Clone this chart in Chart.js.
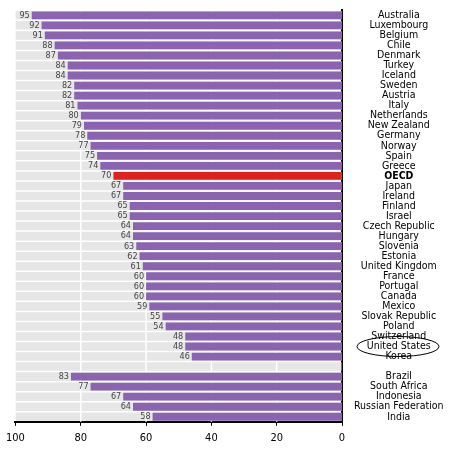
<!DOCTYPE html>
<html><head><script src="https://cdn.jsdelivr.net/npm/chart.js"></script>
<style>body{margin:0;background:#fff}#w{width:449px;height:455px}</style></head>
<body><div id="w"><canvas id="c"></canvas></div>
<script>
const categories=["Australia","Luxembourg","Belgium","Chile","Denmark","Turkey","Iceland","Sweden","Austria","Italy","Netherlands","New Zealand","Germany","Norway","Spain","Greece","OECD","Japan","Ireland","Finland","Israel","Czech Republic","Hungary","Slovenia","Estonia","United Kingdom","France","Portugal","Canada","Mexico","Slovak Republic","Poland","Switzerland","United States","Korea","","Brazil","South Africa","Indonesia","Russian Federation","India"];
const values=[95,92,91,88,87,84,84,82,82,81,80,79,78,77,75,74,70,67,67,65,65,64,64,63,62,61,60,60,60,59,55,54,48,48,46,null,83,77,67,64,58];
const xTicks=[100,80,60,40,20,0];
const colors=categories.map(c=>c==="OECD"?"#e0201b":"#8a64b0");
const bg=categories.map(()=>100);
const FAM='"DejaVu Sans Condensed", "Liberation Sans Narrow", "Liberation Sans"';
const plug={id:'p',
afterDatasetDraw(ch,args){if(args.index!==0)return;const ctx=ch.ctx,x=ch.scales.x,a=ch.chartArea;ctx.save();ctx.strokeStyle='#fff';ctx.lineWidth=1.5;[20,40,60,80].forEach(v=>{const px=x.getPixelForValue(v);ctx.beginPath();ctx.moveTo(px,a.top);ctx.lineTo(px,a.bottom);ctx.stroke();});ctx.restore();},
afterDatasetsDraw(ch){const ctx=ch.ctx,m=ch.getDatasetMeta(1);ctx.save();ctx.font='9px '+FAM;ctx.textAlign='right';ctx.textBaseline='middle';
m.data.forEach((b,i)=>{if(values[i]==null)return;ctx.fillStyle='#444';ctx.fillText(values[i],b.x-2,b.y);});
const y=ch.scales.y,yy=y.getPixelForValue(33);ctx.strokeStyle='#000';ctx.lineWidth=1;ctx.beginPath();ctx.ellipse(398,yy,41,10,0,0,Math.PI*2);ctx.stroke();ctx.restore();}};
new Chart(document.getElementById('c'),{type:'bar',data:{labels:categories,datasets:[
{data:bg,backgroundColor:'#e6e6e7',barPercentage:1,categoryPercentage:0.85,grouped:false,order:2},
{data:values,backgroundColor:colors,barPercentage:1,categoryPercentage:0.78,grouped:false,order:1}]},
options:{indexAxis:'y',animation:false,responsive:true,maintainAspectRatio:false,layout:{padding:{top:5,left:2,right:4,bottom:4}},
plugins:{legend:{display:false},tooltip:{enabled:false}},
scales:{x:{reverse:true,min:0,max:100,afterBuildTicks(a){a.ticks=xTicks.map(v=>({value:v}));},grid:{display:true,drawOnChartArea:false,color:'#000',tickLength:4},border:{color:'#000',width:2},ticks:{color:'#000',font:{size:11,family:FAM},padding:6}},
y:{position:'right',grid:{display:false},border:{color:'#000',width:2},afterFit(s){s.width=103;},ticks:{autoSkip:false,color:'#000',padding:4,align:'center',crossAlign:'center',font:c=>({size:10.5,family:FAM,weight:categories[c.index]==='OECD'?'bold':'normal'})}}}},
plugins:[plug]});
</script></body></html>
